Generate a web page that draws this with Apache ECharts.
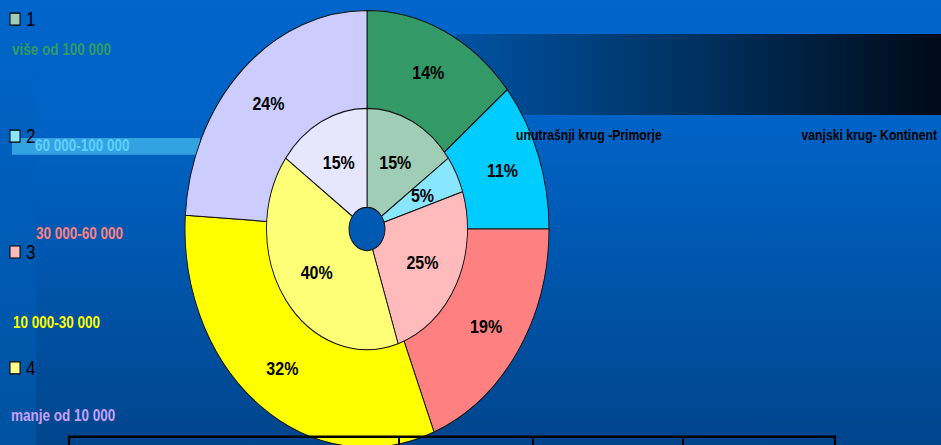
<!DOCTYPE html>
<html>
<head>
<meta charset="utf-8">
<script src="https://cdn.jsdelivr.net/npm/echarts@6/dist/echarts.min.js"></script>
<style>
html,body{margin:0;padding:0;overflow:hidden;background:#00458C;width:941px;height:445px;}
#chart{width:941px;height:371px;transform:scaleY(1.2);transform-origin:0 0;}
</style>
</head>
<body>
<div id="chart"></div>
<script>
// ---- data ----
const categories = ['više od 100 000', '60 000-100 000', '30 000-60 000', '10 000-30 000', 'manje od 10 000'];
const outerValues = [14, 11, 19, 32, 24];   // vanjski krug - Kontinent
const innerValues = [15, 5, 25, 40, 15];    // unutrašnji krug - Primorje
const legendNumbers = ['1', '2', '3', '4'];
const outerName = 'vanjski krug- Kontinent';
const innerName = 'unutrašnji krug -Primorje';

const outerColors = ['#339966', '#00CCFF', '#FF8080', '#FFFF00', '#CCCCFF'];
const innerColors = ['#A0CDB6', '#88E6FF', '#FFBBBB', '#FFFF77', '#E6E6FF'];
const legendColors = ['#A0CDB6', '#88E6FF', '#FFBBBB', '#FFFF88'];
const catTextColors = ['#339966', '#5FD0FF', '#FF8080', '#FFFF00', '#C8A0F8'];

const font = '"Liberation Sans", Arial, sans-serif';
const chart = echarts.init(document.getElementById('chart'), null, {renderer: 'svg'});

function mk(values, colors) {
  return values.map((v, i) => ({value: v, name: categories[i], itemStyle: {color: colors[i]}}));
}

const legendY = [11, 108.5, 205, 301.5];
const catTextPos = [[12, 41.7], [35, 121], [36, 195], [13, 269], [11, 346.7]];

const graphics = [
  {type: 'rect', z: 0, shape: {x: 0, y: 0, width: 941, height: 371},
   style: {fill: new echarts.graphic.LinearGradient(0, 0, 0, 1, [
     {offset: 0, color: '#0066CC'}, {offset: 0.3, color: '#0062C4'}, {offset: 1, color: '#00458C'}])}},
  {type: 'rect', z: 0, shape: {x: 0, y: 0, width: 36, height: 371},
   style: {fill: new echarts.graphic.LinearGradient(0, 0, 0, 1, [
     {offset: 0, color: '#0066CC'}, {offset: 1, color: '#0052A0'}])}},
  {type: 'rect', z: 0, shape: {x: 456, y: 28.3, width: 485, height: 67.5},
   style: {fill: new echarts.graphic.LinearGradient(0, 0, 1, 0, [
     {offset: 0, color: '#0052A3'}, {offset: 0.5, color: '#00315F'}, {offset: 1, color: '#000A18'}])}},
  {type: 'rect', z: 0, shape: {x: 12, y: 115, width: 188, height: 14}, style: {fill: '#33A2E2'}}
];

legendNumbers.forEach((n, i) => {
  graphics.push({type: 'rect', z: 100, shape: {x: 10, y: legendY[i], width: 10, height: 10},
    style: {fill: legendColors[i], stroke: '#000', lineWidth: 1}});
  graphics.push({type: 'text', z: 100, x: 26, y: legendY[i] + 5,
    style: {text: n, font: '17px ' + font, fill: '#000', verticalAlign: 'middle'}});
});

categories.forEach((c, i) => {
  graphics.push({type: 'text', z: 100, x: catTextPos[i][0], y: catTextPos[i][1],
    style: {text: c, font: 'bold 13.5px ' + font, fill: catTextColors[i], verticalAlign: 'middle'}});
});

graphics.push({type: 'text', z: 100, x: 516, y: 112.5,
  style: {text: innerName, font: 'bold 12.2px ' + font, fill: '#000', verticalAlign: 'middle'}});
graphics.push({type: 'text', z: 100, x: 937, y: 112.5,
  style: {text: outerName, font: 'bold 12.2px ' + font, fill: '#000', verticalAlign: 'middle', align: 'right'}});

// table border at bottom
graphics.push({type: 'polyline', z: 100, shape: {points: [[69, 372], [69, 364], [835, 364], [835, 372]]},
  style: {stroke: '#000', lineWidth: 2.2, fill: null}});
[399, 533, 683].forEach(x => graphics.push({type: 'line', z: 100, shape: {x1: x, y1: 364, x2: x, y2: 372},
  style: {stroke: '#000', lineWidth: 2}}));

const labelStyle = {show: true, position: 'inside', formatter: '{c}%', color: '#000',
  fontWeight: 'bold', fontSize: 16, fontFamily: font};

chart.setOption({
  animation: false,
  graphic: graphics,
  series: [
    {type: 'pie', name: outerName, center: [367, 190.8], radius: [100, 182], startAngle: 90, clockwise: true,
     z: 2, silent: true, label: labelStyle, labelLine: {show: false},
     itemStyle: {borderColor: '#111', borderWidth: 0.9},
     data: mk(outerValues, outerColors)},
    {type: 'pie', name: innerName, center: [367, 190.8], radius: [18, 100.5], startAngle: 90, clockwise: true,
     z: 3, silent: true, label: labelStyle, labelLine: {show: false},
     itemStyle: {borderColor: '#111', borderWidth: 0.9},
     data: mk(innerValues, innerColors)}
  ]
});
</script>
</body>
</html>
